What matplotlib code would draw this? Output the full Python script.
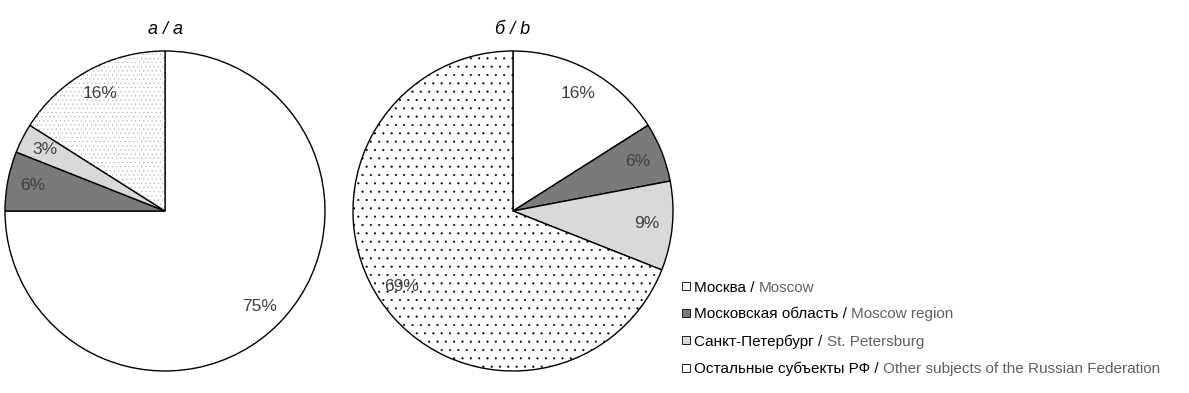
import matplotlib
matplotlib.use("Agg")
import matplotlib.pyplot as plt
from matplotlib.lines import Line2D
from matplotlib.patches import Wedge

plt.rcParams["font.family"] = ["Liberation Sans", "DejaVu Sans"]
plt.rcParams["hatch.linewidth"] = 0.3

# shares, %
share_a = [75, 6, 3, 16]
share_b = [16, 6, 9, 69]
titles = ["а / a", "б / b"]
labels_ru = ["Москва", "Московская область", "Санкт-Петербург", "Остальные субъекты РФ"]
labels_en = ["Moscow", "Moscow region", "St. Petersburg", "Other subjects of the Russian Federation"]

face = ["white", "#7a7a7a", "#d9d9d9", "white"]
pct_color = "#404040"
en_color = "#606060"

W, H = 1189, 393
fig = plt.figure(figsize=(W / 100, H / 100), dpi=100)


def draw_pie(ax, values, title, hatch, hatch_color, title_x):
    wedges, _, autot = ax.pie(values, colors=face, startangle=90, counterclock=False,
                              radius=1.0, autopct="%d%%", pctdistance=0.84,
                              wedgeprops=dict(edgecolor="black", linewidth=1.0),
                              textprops=dict(color=pct_color, fontsize=12.5))
    w = wedges[3]
    ax.add_patch(Wedge(w.center, w.r, w.theta1, w.theta2, fill=False,
                       edgecolor=hatch_color, linewidth=0, hatch=hatch, zorder=w.get_zorder() + 0.1))
    for t in autot:
        t.set_zorder(5)
    ax.set_xlim(-1.0, 1.0)
    ax.set_ylim(-1.0, 1.0)
    ax.set_aspect("equal")
    ax.axis("off")
    fig.text(title_x / W, 1 - 30 / H, title, ha="center", va="center", style="italic", fontsize=13)


cy, r = 211, 160
ax_a = fig.add_axes([(165 - r) / W, (H - cy - r) / H, 2 * r / W, 2 * r / H])
draw_pie(ax_a, share_a, titles[0], "....", "#a8a8a8", 165)
ax_b = fig.add_axes([(513 - r) / W, (H - cy - r) / H, 2 * r / W, 2 * r / H])
draw_pie(ax_b, share_b, titles[1], "..", "black", 513)

handles = [Line2D([], [], linestyle="none", marker="s", markersize=6,
                  markerfacecolor=c, markeredgecolor="black", markeredgewidth=0.6)
           for c in face]
leg = fig.legend(handles, [s + " /" for s in labels_ru], loc="upper left",
                 bbox_to_anchor=(674 / W, 1 - 273 / H), frameon=False, fontsize=11,
                 handlelength=0.6, handletextpad=0.22, labelspacing=0.84, borderpad=0)
for txt, en in zip(leg.get_texts(), labels_en):
    fig.add_artist(plt.Annotation(en, xy=(1, 0), xycoords=txt, xytext=(3, 0),
                                  textcoords="offset points", va="bottom", ha="left",
                                  color=en_color, fontsize=11, zorder=10))

fig.savefig("out.png", dpi=100)
